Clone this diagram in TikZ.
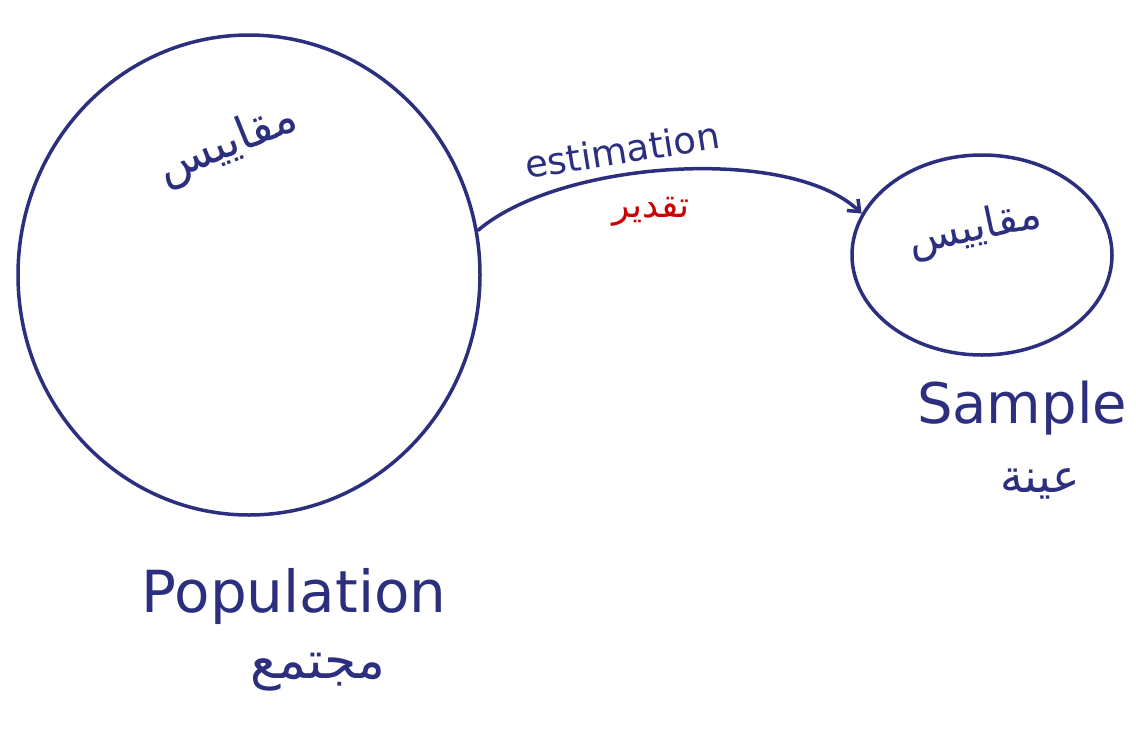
\documentclass[tikz,border=0pt]{standalone}
\usepackage{fontspec}
\setmainfont{DejaVu Sans}
\newfontfamily\arabicfont[Script=Arabic]{DejaVu Sans}
\TeXXeTstate=1
\usetikzlibrary{shapes.geometric,arrows.meta}
\definecolor{ink}{HTML}{2B2F7E}
\definecolor{redink}{HTML}{CC0000}
\tikzset{
  blob/.style={draw=ink, line width=3.5pt, ellipse, inner sep=0pt},
  hand/.style={text=ink, inner sep=1pt},
  arab/.style={text=ink, inner sep=1pt},
  link/.style={draw=ink, line width=3.5pt, -{Straight Barb[length=10pt,width=16pt]}}
}
\begin{document}
\begin{tikzpicture}[x=1pt,y=-1pt]
\useasboundingbox[fill=white] (0,0) rectangle (1136,742);
\node[blob, minimum width=462pt, minimum height=480pt] (pop) at (249,275) {};
\node[blob, minimum width=260pt, minimum height=200pt] (samp) at (982,255) {};
\draw[link] (pop.11) .. controls (560,160) and (790,145) .. (samp.161);
\node[arab, rotate=22, font=\arabicfont\fontsize{46}{50}\selectfont] (popm) at (228,145) {\beginR مقاييس\endR};
\node[arab, rotate=12, font=\arabicfont\fontsize{42}{46}\selectfont] (sampm) at (975,230) {\beginR مقاييس\endR};
\node[hand, rotate=9, font=\fontsize{37}{40}\selectfont] (est) at (622,150) {estimation};
\node[arab, text=redink, font=\arabicfont\fontsize{36}{40}\selectfont] (taq) at (651,212) {\beginR تقدير\endR};
\node[hand, font=\fontsize{58}{62}\selectfont] (popl) at (294,596) {Population};
\node[arab, font=\arabicfont\fontsize{52}{56}\selectfont] (mujt) at (318,672) {\beginR مجتمع\endR};
\node[hand, font=\fontsize{56}{60}\selectfont] (sampl) at (1022,408) {Sample};
\node[arab, font=\arabicfont\fontsize{46}{50}\selectfont] (ayn) at (1040,484) {\beginR عينة\endR};
\end{tikzpicture}
\end{document}
